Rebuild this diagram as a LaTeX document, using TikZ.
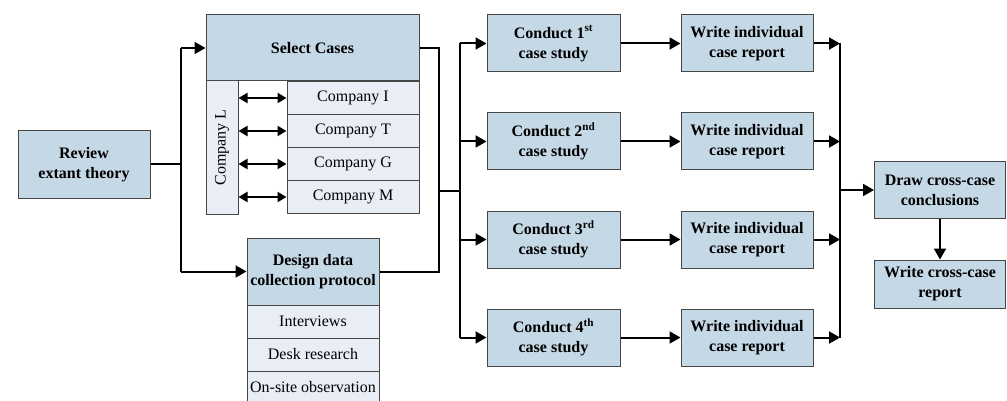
\documentclass[tikz,border=0pt]{standalone}
\usepackage{fontspec}
\setmainfont{Liberation Serif}
\usetikzlibrary{arrows.meta}
\definecolor{headfill}{RGB}{197,216,230}
\definecolor{rowfill}{RGB}{233,238,246}
\definecolor{edgec}{RGB}{70,70,70}
\begin{document}
\begin{tikzpicture}[x=1pt,y=-1pt,
  box/.style={draw=edgec, line width=1pt, fill=headfill, align=center, inner sep=0pt,
    font=\bfseries\fontsize{16}{20}\selectfont},
  row/.style={draw=edgec, line width=1pt, fill=rowfill, inner sep=0pt,
    font=\fontsize{16}{20}\selectfont},
  conn/.style={line width=2pt},
  arr/.style={conn, -{Triangle[length=11pt,width=12pt]}},
  dbl/.style={conn, {Triangle[length=9pt,width=10pt]}-{Triangle[length=9pt,width=10pt]}}]
\useasboundingbox (0,0) rectangle (1007,401);
\clip (0,0) rectangle (1007,401);
% left part
\node[box, minimum width=132pt, minimum height=67pt] (review) at (84,164.5) {Review\\extant theory};
\node[box, minimum width=213pt, minimum height=66pt] (select) at (312.5,48) {Select Cases};
\node[row, rotate=90, minimum width=133pt, minimum height=32pt] (compL) at (222,147.5) {Company L};
\node[row, minimum width=132pt, minimum height=33pt] (compI) at (353,98) {Company I};
\node[row, minimum width=132pt, minimum height=33pt] (compT) at (353,131) {Company T};
\node[row, minimum width=132pt, minimum height=33pt] (compG) at (353,164) {Company G};
\node[row, minimum width=132pt, minimum height=33pt] (compM) at (353,197) {Company M};
\node[box, minimum width=132pt, minimum height=67pt] (design) at (313,271.5) {Design data\\collection protocol};
\node[row, minimum width=132pt, minimum height=33pt] (interv) at (313,321.5) {Interviews};
\node[row, minimum width=132pt, minimum height=33pt] (desk) at (313,354.5) {Desk research};
\node[row, minimum width=132pt, minimum height=33pt] (onsite) at (313,387.5) {On-site observation};
% case studies
\node[box, minimum width=133pt, minimum height=57pt] (c1) at (553.5,43.5) {Conduct 1\textsuperscript{st}\\case study};
\node[box, minimum width=133pt, minimum height=57pt] (c2) at (553.5,141.5) {Conduct 2\textsuperscript{nd}\\case study};
\node[box, minimum width=133pt, minimum height=57pt] (c3) at (553.5,239.5) {Conduct 3\textsuperscript{rd}\\case study};
\node[box, minimum width=133pt, minimum height=57pt] (c4) at (553.5,337.5) {Conduct 4\textsuperscript{th}\\case study};
\node[box, minimum width=132pt, minimum height=57pt] (w1) at (747,43.5) {Write individual\\case report};
\node[box, minimum width=132pt, minimum height=57pt] (w2) at (747,141.5) {Write individual\\case report};
\node[box, minimum width=132pt, minimum height=57pt] (w3) at (747,239.5) {Write individual\\case report};
\node[box, minimum width=132pt, minimum height=57pt] (w4) at (747,337.5) {Write individual\\case report};
\node[box, minimum width=131pt, minimum height=56pt] (draw) at (940,190) {Draw cross-case\\conclusions};
\node[box, minimum width=131pt, minimum height=48pt] (report) at (940,284) {Write cross-case\\report};
% junction coordinates
\coordinate (jl) at (181,164.5);
\coordinate (jm) at (439,191);
\coordinate (jr) at (460,191);
\coordinate (jx) at (840,190);
% left connectors
\draw[conn] (review.east) -- (jl);
\draw[conn] (jl|-select.west) -- (jl|-design.west);
\draw[arr] (jl|-select.west) -- (select.west);
\draw[arr] (jl|-design.west) -- (design.west);
% company double arrows
\foreach \c in {compI,compT,compG,compM}
  \draw[dbl] (compL.south|-\c.west) -- (\c.west);
% middle connectors
\draw[conn] (select.east) -- (jm|-select.east) -- (jm|-design.east) -- (design.east);
\draw[conn] (jm) -- (jr);
\draw[conn] (jr|-c1.west) -- (jr|-c4.west);
\foreach \c in {c1,c2,c3,c4}
  \draw[arr] (jr|-\c.west) -- (\c.west);
% case to report
\draw[arr] (c1.east) -- (w1.west);
\draw[arr] (c2.east) -- (w2.west);
\draw[arr] (c3.east) -- (w3.west);
\draw[arr] (c4.east) -- (w4.west);
% right connectors
\draw[conn] (jx|-w1.east) -- (jx|-w4.east);
\foreach \w in {w1,w2,w3,w4}
  \draw[arr] (\w.east) -- (jx|-\w.east);
\draw[arr] (jx) -- (draw.west);
\draw[arr] (draw.south) -- (report.north);
\end{tikzpicture}
\end{document}
